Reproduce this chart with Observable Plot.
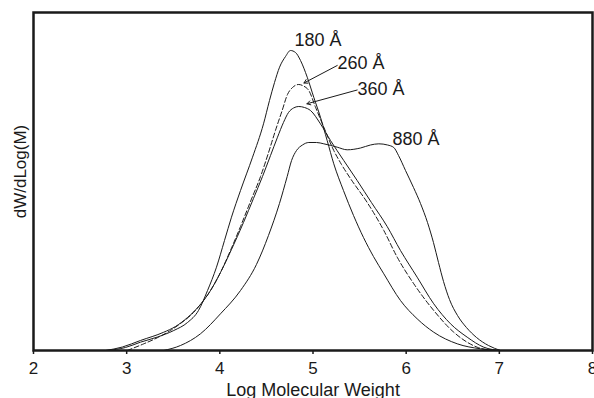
<!DOCTYPE html>
<html>
<head>
<meta charset="utf-8">
<script src="https://cdn.jsdelivr.net/npm/d3@7"></script>
<script src="https://cdn.jsdelivr.net/npm/@observablehq/plot@0.6"></script>
<style>
  html, body { margin: 0; padding: 0; background: white; }
</style>
</head>
<body>
<div id="chart"></div>
<script>
// x: Log Molecular Weight, y: dW/dLog(M) (arbitrary units, 0-100)
const xTicks = [2, 3, 4, 5, 6, 7, 8];
const xTitle = "Log Molecular Weight";
const yTitle = "dW/dLog(M)";

const curve180 = [
  [2.791, 0], [2.987, 0.89], [3.148, 2.46], [3.331, 3.99], [3.506, 5.92],
  [3.653, 8.28], [3.771, 11.83], [3.868, 17.75], [3.964, 24.64], [4.050, 32.54],
  [4.125, 39.44], [4.222, 47.34], [4.351, 57.19], [4.469, 67.07], [4.533, 73.96],
  [4.587, 79.29], [4.641, 83.82], [4.705, 86.98], [4.758, 88.76], [4.812, 88.17],
  [4.866, 85.80], [4.938, 80.86], [5.008, 74.94], [5.080, 69.02], [5.152, 62.13],
  [5.223, 55.24], [5.327, 47.34], [5.435, 39.94], [5.542, 33.43], [5.649, 27.81],
  [5.760, 22.69], [5.939, 14.79], [6.118, 9.38], [6.296, 5.41], [6.548, 1.98],
  [6.798, 0.50], [7.012, 0]
];
const curve260 = [
  [3.006, 0], [3.184, 1.98], [3.328, 3.76], [3.470, 5.92], [3.578, 7.99],
  [3.685, 10.36], [3.792, 13.61], [3.900, 17.75], [4.007, 23.08], [4.114, 29.59],
  [4.222, 36.69], [4.329, 44.08], [4.437, 51.48], [4.523, 58.58], [4.597, 65.09],
  [4.669, 71.01], [4.726, 75.74], [4.780, 77.81], [4.847, 78.70], [4.898, 78.25],
  [4.955, 76.92], [5.027, 71.98], [5.116, 66.07], [5.223, 59.17], [5.306, 55.03],
  [5.402, 50.89], [5.582, 43.79], [5.760, 35.50], [5.904, 27.60], [6.082, 19.73],
  [6.296, 11.83], [6.511, 5.41], [6.762, 0.98], [6.940, 0]
];
const curve360 = [
  [2.773, 0], [2.955, 1.04], [3.148, 2.96], [3.398, 5.41], [3.524, 7.10],
  [3.653, 9.76], [3.782, 13.31], [3.900, 17.75], [4.007, 23.08], [4.125, 29.88],
  [4.254, 37.87], [4.361, 44.97], [4.458, 51.48], [4.544, 57.69], [4.619, 63.11],
  [4.683, 67.46], [4.737, 70.41], [4.791, 71.75], [4.847, 72.19], [4.909, 71.89],
  [4.973, 71.01], [5.080, 67.07], [5.188, 62.13], [5.330, 56.21], [5.474, 50.30],
  [5.627, 43.79], [5.796, 36.69], [5.939, 29.59], [6.118, 21.69], [6.296, 13.82],
  [6.476, 7.90], [6.655, 3.94], [6.833, 0.98], [7.012, 0]
];
const curve880 = [
  [3.398, 0], [3.578, 1.48], [3.792, 4.94], [4.007, 10.86], [4.222, 17.75],
  [4.393, 25.44], [4.522, 34.02], [4.640, 43.49], [4.723, 51.48], [4.770, 56.21],
  [4.823, 59.17], [4.887, 60.80], [4.955, 61.54], [5.037, 61.54], [5.116, 61.15],
  [5.260, 60.15], [5.367, 59.38], [5.510, 59.91], [5.617, 60.80], [5.706, 61.15],
  [5.800, 60.80], [5.867, 60.06], [5.918, 57.69], [5.993, 53.25], [6.079, 48.22],
  [6.154, 43.49], [6.229, 37.87], [6.293, 31.95], [6.347, 26.04], [6.401, 20.41],
  [6.465, 15.09], [6.551, 10.36], [6.647, 6.80], [6.755, 3.85], [6.883, 1.48],
  [7.012, 0]
];

const labelNames = ["180 Å", "260 Å", "360 Å", "880 Å"];
const labelX = [4.801, 5.263, 5.478, 5.853];
const labelY = [91.72, 84.91, 77.22, 62.4];

// arrows: [x1, y1, x2, y2]
const arrow260 = [5.260, 84.32, 4.903, 79.14];
const arrow360 = [5.474, 77.07, 4.935, 72.99];

const toRows = (arr, name) => arr.map(([logM, w]) => ({logM, w, series: name}));
const solidRows = [
  ...toRows(curve180, "180 Å"),
  ...toRows(curve360, "360 Å"),
  ...toRows(curve880, "880 Å")
];
const dashedRows = toRows(curve260, "260 Å");
const labels = labelNames.map((t, i) => ({t, x: labelX[i], y: labelY[i]}));
const arrows = [arrow260, arrow360].map(([x1, y1, x2, y2]) => ({x1, y1, x2, y2}));

const ink = "#1a1a1a";

const chart = Plot.plot({
  width: 594,
  height: 398,
  marginLeft: 33,
  marginRight: 2,
  marginTop: 12,
  marginBottom: 48,
  style: {background: "white", fontFamily: "'Liberation Sans', Arial, Helvetica, sans-serif", color: ink},
  x: {domain: [2, 8]},
  y: {domain: [0, 100], axis: null},
  marks: [
    Plot.axisX({ticks: xTicks, tickFormat: d => String(d), tickSize: 4, tickPadding: 7, fontSize: 17, label: null, strokeWidth: 1.5, stroke: ink, fill: ink}),
    Plot.line(solidRows, {x: "logM", y: "w", z: "series", curve: "monotone-x", stroke: ink, strokeWidth: 1}),
    Plot.line(dashedRows, {x: "logM", y: "w", z: "series", curve: "monotone-x", stroke: ink, strokeWidth: 1, strokeDasharray: "5,2.5"}),
    Plot.arrow(arrows, {x1: "x1", y1: "y1", x2: "x2", y2: "y2", stroke: ink, strokeWidth: 1, headLength: 6, bend: false}),
    Plot.text(labels, {x: "x", y: "y", text: "t", textAnchor: "start", lineAnchor: "middle", fontSize: 18, fill: ink}),
    Plot.text([xTitle], {frameAnchor: "bottom", dy: 40, textAnchor: "middle", lineAnchor: "middle", fontSize: 18, fill: ink}),
    Plot.text([yTitle], {frameAnchor: "left", dx: -13, dy: -10, rotate: -90, textAnchor: "middle", lineAnchor: "middle", fontSize: 17, fill: ink}),
    Plot.frame({stroke: ink, strokeWidth: 2.5})
  ]
});
document.getElementById("chart").appendChild(chart);
</script>
</body>
</html>
